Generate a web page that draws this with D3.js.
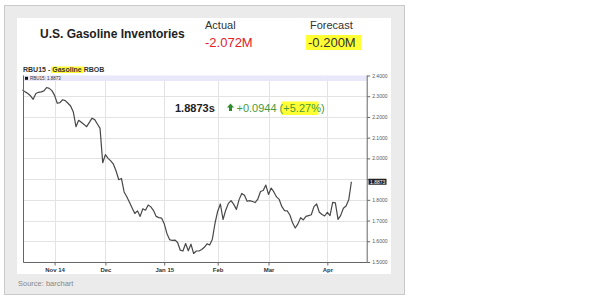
<!DOCTYPE html>
<html>
<head>
<meta charset="utf-8">
<script src="https://cdn.jsdelivr.net/npm/d3@7"></script>
<style>
  body { margin: 0; background: #fff; }
  svg { display: block; font-family: "Liberation Sans", Arial, sans-serif; }
</style>
</head>
<body>
<div id="chart"></div>
<script>
// RBU15 gasoline RBOB daily closes, one per trading day (mid Oct 2014 - mid Apr 2015)
var prices = [
  2.330, 2.321, 2.313, 2.302, 2.285, 2.313, 2.319, 2.321, 2.326, 2.342,
  2.338, 2.327, 2.304, 2.266, 2.269, 2.283, 2.279, 2.266, 2.253, 2.224,
  2.153, 2.184, 2.174, 2.164, 2.153, 2.174, 2.194, 2.187, 2.166, 2.145,
  1.979, 2.018, 2.000, 1.988, 1.972, 1.939, 1.897, 1.903, 1.838, 1.815,
  1.788, 1.761, 1.734, 1.747, 1.720, 1.757, 1.750, 1.775, 1.766, 1.748,
  1.720, 1.714, 1.712, 1.685, 1.638, 1.608, 1.604, 1.606, 1.594, 1.557,
  1.553, 1.589, 1.554, 1.586, 1.541, 1.553, 1.553, 1.560, 1.571, 1.588,
  1.582, 1.610, 1.687, 1.745, 1.780, 1.705, 1.750, 1.783, 1.796, 1.778,
  1.754, 1.801, 1.831, 1.822, 1.793, 1.796, 1.792, 1.787, 1.803, 1.840,
  1.845, 1.871, 1.826, 1.857, 1.838, 1.814, 1.802, 1.767, 1.748, 1.747,
  1.727, 1.689, 1.664, 1.684, 1.714, 1.703, 1.720, 1.724, 1.728, 1.767,
  1.780, 1.740, 1.729, 1.722, 1.740, 1.724, 1.788, 1.785, 1.706, 1.725,
  1.759, 1.770, 1.800, 1.8873
];
var monthIndex = [12, 31, 53, 73, 92, 114];   // first trading day of each month
var monthLabels = ["Nov 14", "Dec", "Jan 15", "Feb", "Mar", "Apr"];
var priceTicks = [1.5, 1.6, 1.7, 1.8, 1.9, 2.0, 2.1, 2.2, 2.3, 2.4];

var lastPrice = "1.8873";
var change = "+0.0944";
var changePct = "+5.27%";
var actual = "-2.072M";
var forecast = "-0.200M";

var w = 608, h = 300;
var svg = d3.select("#chart").append("svg").attr("width", w).attr("height", h);

// frame
svg.append("rect").attr("x", 4.5).attr("y", 5.5).attr("width", 400).attr("height", 289)
   .attr("fill", "#ebebeb").attr("stroke", "#c9c9c9");
svg.append("rect").attr("x", 17).attr("y", 18).attr("width", 374).attr("height", 256)
   .attr("fill", "#fff");

// header
svg.append("text").attr("x", 40).attr("y", 38).attr("font-size", 12).attr("font-weight", "bold")
   .attr("fill", "#222").text("U.S. Gasoline Inventories");
svg.append("text").attr("x", 205).attr("y", 29).attr("font-size", 11).attr("fill", "#333").text("Actual");
svg.append("text").attr("x", 205).attr("y", 46.5).attr("font-size", 13).attr("fill", "#e3202a").text(actual);
svg.append("text").attr("x", 310).attr("y", 29).attr("font-size", 11).attr("fill", "#333").text("Forecast");
svg.append("rect").attr("x", 306).attr("y", 35).attr("width", 55).attr("height", 15).attr("fill", "#ffff33");
svg.append("text").attr("x", 308).attr("y", 46.5).attr("font-size", 13).attr("fill", "#333").text(forecast);

// chart title
svg.append("rect").attr("x", 51).attr("y", 66.5).attr("width", 33).attr("height", 6.5).attr("fill", "#ffff33");
var t = svg.append("text").attr("x", 23).attr("y", 71.8).attr("font-size", 7).attr("font-weight", "bold").attr("fill", "#333");
t.append("tspan").text("RBU15 - ");
t.append("tspan").text("Gasoline");
t.append("tspan").text(" RBOB");

var plotL = 23, plotR = 366.7, plotT = 75.5, plotB = 262;

var x = d3.scaleLinear().domain([0, prices.length - 1]).range([22.5, 351.4]);
var y = d3.scaleLinear().domain([1.5, 2.4]).range([plotB, plotT]);

// grid
svg.append("g").selectAll("line").data(priceTicks).enter().append("line")
   .attr("x1", plotL).attr("x2", plotR)
   .attr("y1", function(d) { return Math.round(y(d)) + 0.5; })
   .attr("y2", function(d) { return Math.round(y(d)) + 0.5; })
   .attr("stroke", "#e3e3e3");
svg.append("g").selectAll("line").data(monthIndex).enter().append("line")
   .attr("x1", function(d) { return Math.round(x(d)) + 0.5; })
   .attr("x2", function(d) { return Math.round(x(d)) + 0.5; })
   .attr("y1", plotT).attr("y2", plotB)
   .attr("stroke", "#e3e3e3");

// legend strip
svg.append("rect").attr("x", plotL).attr("y", plotT).attr("width", plotR - plotL).attr("height", 5.5)
   .attr("fill", "#e8e8fa");
svg.append("rect").attr("x", 25).attr("y", 76.8).attr("width", 3).attr("height", 3).attr("fill", "#111");
svg.append("text").attr("x", 30).attr("y", 80).attr("font-size", 4.5).attr("fill", "#333")
   .text("RBU15: " + lastPrice);

// price line
var line = d3.line().x(function(d, i) { return x(i); }).y(function(d) { return y(d); });
svg.append("path").datum(prices).attr("d", line)
   .attr("fill", "none").attr("stroke", "#484848").attr("stroke-width", 1.2).attr("stroke-linejoin", "round");

// plot frame
svg.append("path")
   .attr("d", "M" + (plotL + 0.5) + "," + plotT + "V" + (plotB + 0.5) + "H" + (plotR + 0.5) + "V" + plotT)
   .attr("fill", "none").attr("stroke", "#666");

// right axis (the 1.9 label sits under the last-price box)
var yAxis = svg.append("g").attr("transform", "translate(" + (plotR + 0.5) + ",0)")
   .call(d3.axisRight(y).tickValues(priceTicks)
     .tickFormat(function(d) { return d === 1.9 ? "" : d3.format(".4f")(d); })
     .tickSize(3).tickPadding(2));
yAxis.select(".domain").remove();
yAxis.selectAll("line").attr("stroke", "#666");
yAxis.selectAll("text").attr("font-size", 5).attr("fill", "#555").attr("font-family", "Liberation Sans, Arial");

// last price marker
svg.append("rect").attr("x", 368.5).attr("y", y(1.8873) - 3).attr("width", 18).attr("height", 6).attr("fill", "#222");
svg.append("text").attr("x", 370).attr("y", y(1.8873) + 1.8).attr("font-size", 5).attr("fill", "#fff").text(lastPrice);

// bottom axis
var xAxis = svg.append("g").attr("transform", "translate(0," + (plotB + 0.5) + ")")
   .call(d3.axisBottom(x).tickValues(monthIndex)
     .tickFormat(function(d, i) { return monthLabels[i]; }).tickSize(3).tickPadding(2));
xAxis.select(".domain").remove();
xAxis.selectAll("line").attr("stroke", "#666");
xAxis.selectAll("text").attr("font-size", 6).attr("font-weight", "bold").attr("fill", "#333")
   .attr("font-family", "Liberation Sans, Arial");

// quote
svg.append("text").attr("x", 175).attr("y", 112).attr("font-size", 11).attr("font-weight", "bold")
   .attr("fill", "#222").text(lastPrice + "s");
svg.append("path").attr("d", "M230.5,103.5 L234,107.5 L232,107.5 L232,111 L229,111 L229,107.5 L227,107.5 Z")
   .attr("fill", "#2e8b2e");
svg.append("rect").attr("x", 281.5).attr("y", 101.5).attr("width", 37).attr("height", 13.5).attr("fill", "#ffff33");
var q = svg.append("text").attr("x", 236.5).attr("y", 112).attr("font-size", 11).attr("fill", "#4a9a3a");
q.append("tspan").text(change + " (");
q.append("tspan").text(changePct);
q.append("tspan").text(")");

// source
svg.append("text").attr("x", 18).attr("y", 286).attr("font-size", 7.5).attr("fill", "#888").text("Source: barchart");
</script>
</body>
</html>
